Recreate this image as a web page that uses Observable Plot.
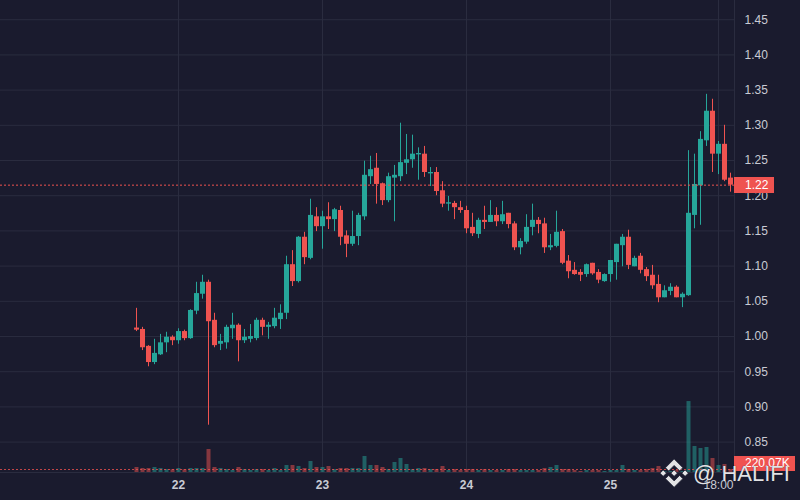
<!DOCTYPE html>
<html>
<head>
<meta charset="utf-8">
<script src="https://cdn.jsdelivr.net/npm/d3@7"></script>
<script src="https://cdn.jsdelivr.net/npm/@observablehq/plot@0.6"></script>
<style>
  html, body { margin: 0; padding: 0; background: #1a1b2e; }
  #wrap { position: relative; width: 800px; height: 500px; background: #1a1b2e; overflow: hidden; font-family: "Liberation Sans", Arial, sans-serif; }
  #wrap > * { position: absolute; left: 0; top: 0; }
  .lbl { position: absolute; background: #ef5350; color: #ffffff; font-size: 12px; line-height: 16px; height: 16px; padding-left: 11px; box-sizing: border-box; }
  #wmtext { position: absolute; left: 693px !important; top: 462px !important; font-family: "Liberation Sans", Arial, sans-serif; font-size: 22px; line-height: 24px; color: rgba(255,255,255,0.88); white-space: nowrap; text-shadow: 0 0 1px #1a1b2e; }
</style>
</head>
<body>
<div id="wrap"></div>
<script>
// ---- data (hourly candles starting 21st 17:00) ----
const open  = [1.012,1.010,0.986,0.963,0.974,0.991,0.999,0.994,1.007,0.997,
               1.036,1.060,1.077,1.023,0.989,0.991,1.011,1.016,0.994,0.996,
               0.997,1.023,1.013,1.014,1.024,1.033,1.102,1.078,1.141,1.111,
               1.170,1.156,1.170,1.166,1.179,1.143,1.131,1.142,1.170,1.227,
               1.239,1.217,1.193,1.225,1.227,1.246,1.251,1.258,1.259,1.231,
               1.233,1.207,1.188,1.189,1.183,1.179,1.155,1.145,1.165,1.162,
               1.172,1.163,1.175,1.160,1.126,1.134,1.155,1.165,1.160,1.126,
               1.128,1.149,1.107,1.094,1.091,1.088,1.104,1.091,1.078,1.088,
               1.105,1.129,1.141,1.099,1.114,1.095,1.087,1.074,1.055,1.064,
               1.070,1.055,1.058,1.172,1.214,1.278,1.320,1.259,1.273,1.225];
const high  = [1.040,1.013,0.987,0.996,1.003,1.006,1.001,1.011,1.009,1.038,
               1.077,1.087,1.080,1.033,1.003,1.016,1.033,1.018,1.010,1.017,
               1.026,1.026,1.020,1.040,1.045,1.114,1.122,1.142,1.148,1.195,
               1.183,1.178,1.190,1.182,1.185,1.150,1.178,1.175,1.249,1.256,
               1.260,1.218,1.232,1.243,1.303,1.287,1.286,1.268,1.270,1.240,
               1.240,1.220,1.199,1.192,1.192,1.185,1.175,1.168,1.185,1.193,
               1.183,1.192,1.175,1.163,1.139,1.173,1.188,1.169,1.168,1.145,
               1.178,1.152,1.115,1.105,1.095,1.103,1.104,1.095,1.089,1.108,
               1.131,1.145,1.151,1.114,1.118,1.098,1.101,1.087,1.072,1.075,
               1.072,1.062,1.264,1.259,1.291,1.344,1.337,1.277,1.300,1.232];
const low   = [1.007,0.980,0.957,0.960,0.973,0.977,0.987,0.989,0.994,0.996,
               1.031,1.053,0.874,0.984,0.980,0.982,0.996,0.964,0.990,0.991,
               0.994,1.001,0.996,1.011,1.010,1.024,1.071,1.076,1.102,1.109,
               1.149,1.124,1.152,1.149,1.129,1.112,1.128,1.129,1.165,1.216,
               1.188,1.186,1.190,1.163,1.220,1.230,1.239,1.222,1.226,1.213,
               1.200,1.183,1.178,1.166,1.175,1.146,1.142,1.139,1.152,1.162,
               1.156,1.159,1.153,1.122,1.116,1.131,1.143,1.146,1.118,1.122,
               1.126,1.102,1.082,1.087,1.078,1.084,1.087,1.075,1.077,1.077,
               1.080,1.099,1.095,1.099,1.089,1.078,1.067,1.048,1.055,1.058,
               1.055,1.041,1.057,1.153,1.158,1.270,1.233,1.230,1.220,1.205];
const close = [1.009,0.984,0.963,0.976,0.991,0.999,0.994,1.007,0.997,1.037,
               1.061,1.077,1.021,0.987,0.993,1.013,1.016,0.994,0.999,1.000,
               1.023,1.013,1.016,1.026,1.033,1.102,1.078,1.141,1.112,1.172,
               1.156,1.170,1.166,1.180,1.141,1.131,1.142,1.172,1.229,1.237,
               1.216,1.193,1.227,1.229,1.247,1.251,1.259,1.260,1.233,1.233,
               1.206,1.188,1.190,1.183,1.179,1.153,1.146,1.165,1.162,1.172,
               1.163,1.173,1.159,1.126,1.135,1.155,1.165,1.159,1.126,1.129,
               1.148,1.104,1.092,1.088,1.087,1.102,1.089,1.080,1.088,1.108,
               1.131,1.141,1.101,1.111,1.094,1.085,1.072,1.055,1.065,1.070,
               1.055,1.060,1.175,1.216,1.280,1.320,1.259,1.273,1.222,1.215];
// volume in thousands
const volume = [366,293,293,366,293,220,198,293,198,293,
                293,293,1684,366,293,220,146,366,220,146,
                220,220,146,293,146,512,512,439,293,805,
                366,366,439,220,293,293,293,293,1171,512,
                512,366,220,732,1025,586,220,293,293,220,
                220,439,146,220,146,220,220,146,220,146,
                146,146,220,220,146,146,146,146,293,366,
                512,220,220,146,73,146,146,146,73,146,
                146,512,220,146,146,220,293,439,73,73,
                146,73,5197,1903,1757,1830,1025,512,586,220.07];

const yTicks = [0.85,0.90,0.95,1.00,1.05,1.10,1.15,1.20,1.25,1.30,1.35,1.40,1.45];
const xTickLabels = ["22","23","24","25","18:00"];
const watermark = "@ HALIFI";
const dayTicks = [22,23,24,25].map(d => new Date(Date.UTC(2024,2,d)));
const hourTicks = [new Date(Date.UTC(2024,2,25,18))];
const allXTicks = dayTicks.concat(hourTicks);

const start = Date.UTC(2024,2,21,17);
const candles = open.map((o,i) => ({
  date: new Date(start + i*3600e3),
  open: o, high: high[i], low: low[i], close: close[i], volume: volume[i]
}));

const UP = "#26a69a", DOWN = "#ef5350";
const col = d => d.close >= d.open ? UP : DOWN;
const xDomain = [new Date(Date.UTC(2024,2,20,18,20)), new Date(Date.UTC(2024,2,25,20,40))];
const GRID = "#2a2c3f";
const TEXT = "#c9cbd4";
const FONT = "'Liberation Sans', Arial, sans-serif";
const lastClose = close[close.length-1];
const lastVol = volume[volume.length-1];

const common = {
  width: 800, height: 500,
  marginLeft: 0, marginRight: 66, marginTop: 0, marginBottom: 28,
};

const main = Plot.plot({
  ...common,
  style: {background: "transparent", color: TEXT, fontFamily: FONT, fontSize: "12px", overflow: "visible"},
  x: {type: "utc", domain: xDomain},
  y: {domain: [0.8068, 1.4773]},
  marks: [
    Plot.gridY(yTicks, {stroke: GRID, strokeOpacity: 1}),
    Plot.gridX(allXTicks, {stroke: GRID, strokeOpacity: 1}),
    Plot.ruleY([0.8068], {stroke: GRID, strokeOpacity: 1}),
    Plot.ruleX([xDomain[1]], {stroke: GRID, strokeOpacity: 1}),
    Plot.axisY(yTicks, {anchor: "right", tickSize: 0, tickPadding: 10, tickFormat: d => d.toFixed(2), fill: TEXT, fontSize: 12}),
    Plot.axisX(dayTicks, {anchor: "bottom", tickSize: 0, tickPadding: 8, tickFormat: (d,i) => xTickLabels[i], fill: TEXT, fontSize: 12, fontWeight: "bold"}),
    Plot.axisX(hourTicks, {anchor: "bottom", tickSize: 0, tickPadding: 8, tickFormat: (d,i) => xTickLabels[4 + i], fill: TEXT, fontSize: 12}),
    Plot.ruleX(candles, {x: "date", y1: "low", y2: "high", stroke: col, strokeWidth: 1}),
    Plot.ruleX(candles, {x: "date", y1: "open", y2: "close", stroke: col, strokeWidth: 5}),
    Plot.ruleY([lastClose], {stroke: DOWN, strokeWidth: 1, strokeDasharray: "2,2"})
  ]
});

const vol = Plot.plot({
  ...common,
  style: {background: "transparent"},
  x: {type: "utc", domain: xDomain, axis: null},
  y: {domain: [0, 5200], range: [472, 401], axis: null},
  marks: [
    Plot.ruleX(candles, {x: "date", y1: 0, y2: "volume", stroke: col, strokeOpacity: 0.5, strokeWidth: 4}),
    Plot.ruleY([lastVol], {stroke: DOWN, strokeOpacity: 0.8, strokeWidth: 1, strokeDasharray: "2,2"})
  ]
});

const wrap = document.getElementById("wrap");
wrap.appendChild(main);
wrap.appendChild(vol);

// price labels on the axis, positioned with the plots' scales
const yMain = main.scale("y");
const yVol = vol.scale("y");
const l1 = document.createElement("div");
l1.className = "lbl";
l1.textContent = lastClose.toFixed(2);
l1.style.left = "734px"; l1.style.width = "40px";
l1.style.top = (yMain.apply(lastClose) - 8) + "px";
wrap.appendChild(l1);

const l2 = document.createElement("div");
l2.className = "lbl";
l2.textContent = lastVol.toFixed(2) + "K";
l2.style.left = "734px"; l2.style.width = "61px"; l2.style.height = "15px"; l2.style.lineHeight = "15px";
l2.style.top = (yVol.apply(lastVol) - 13) + "px";
wrap.appendChild(l2);

// watermark logo + text
const ns = "http://www.w3.org/2000/svg";
const wm = document.createElementNS(ns, "svg");
wm.setAttribute("width", 800); wm.setAttribute("height", 500);
wm.innerHTML = `
  <g transform="translate(660,459) scale(1.18)" fill="#ffffff" fill-opacity="0.88" stroke="#1a1b2e" stroke-width="0.6">
    <path d="M16.624 13.9202l2.7175 2.7154-7.353 7.353-7.353-7.352 2.7175-2.7164 4.6355 4.6595 4.6356-4.6595zm4.6366-4.6366L24 12l-2.7154 2.7164L18.5682 12l2.6924-2.7164zm-9.272.001l2.7163 2.6914-2.7164 2.7174v-.001L9.2721 12l2.7164-2.7154zm-9.2722-.001L5.4088 12l-2.6914 2.6924L0 12l2.7164-2.7164zM11.9885.0115l7.353 7.329-2.7174 2.7154-4.6356-4.6356-4.6355 4.6595-2.7174-2.7154 7.353-7.353z"/>
  </g>`;
wrap.appendChild(wm);
const wt = document.createElement("div");
wt.id = "wmtext";
wt.textContent = watermark;
wrap.appendChild(wt);
</script>
</body>
</html>
